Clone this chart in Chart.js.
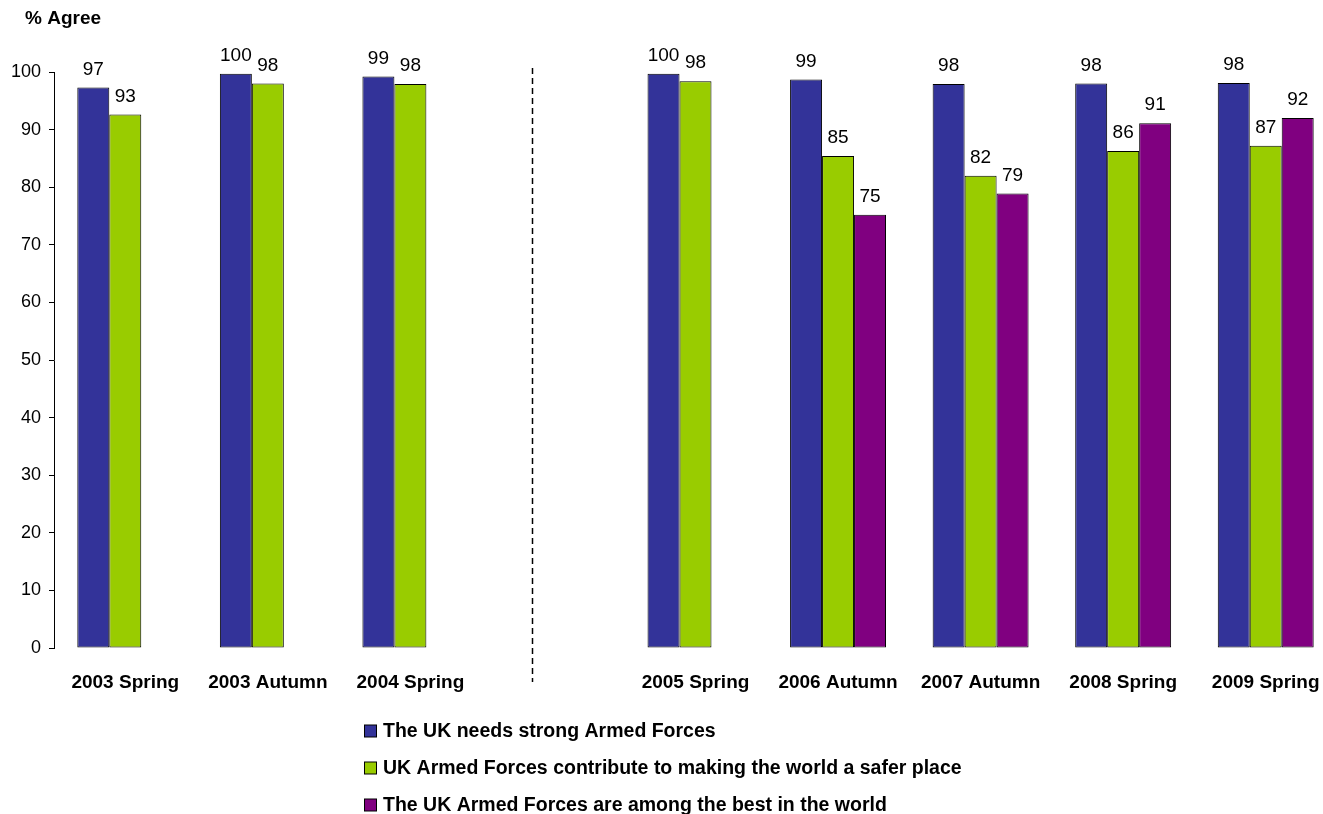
<!DOCTYPE html>
<html>
<head>
<meta charset="utf-8">
<script src="https://cdn.jsdelivr.net/npm/chart.js@4/dist/chart.umd.min.js"></script>
<style>
  html, body { margin: 0; padding: 0; background: #fff; overflow: hidden; }
  canvas { display: block; }
</style>
</head>
<body>
<canvas id="chart" width="1337" height="814"></canvas>
<script>
// survey waves (blank slot = gap where the dashed divider sits)
const categories = ["2003 Spring", "2003 Autumn", "2004 Spring", "", "2005 Spring", "2006 Autumn", "2007 Autumn", "2008 Spring", "2009 Spring"];
const seriesNames = [
  "The UK needs strong Armed Forces",
  "UK Armed Forces contribute to making the world a safer place",
  "The UK Armed Forces are among the best in the world"
];
const needsStrong = [97.3, 99.7, 99.2, null, 99.7, 98.7, 97.9, 98.0, 98.1];
const saferWorld = [92.6, 98.0, 97.9, null, 98.4, 85.4, 82.0, 86.3, 87.2];
const amongBest = [null, null, null, null, null, 75.2, 78.9, 91.1, 92.0];
const yTicks = [0, 10, 20, 30, 40, 50, 60, 70, 80, 90, 100];

const FONT = "Arial, 'Liberation Sans', sans-serif";
const colors = ["#333399", "#99CC00", "#800080"];

// value labels, axis title, dashed divider and the stacked legend
const extras = {
  id: "extras",
  afterDatasetsDraw(chart) {
    const ctx = chart.ctx;
    ctx.save();
    ctx.font = "19px " + FONT;
    ctx.fillStyle = "#000";
    ctx.textAlign = "center";
    ctx.textBaseline = "middle";
    chart.data.datasets.forEach((ds, i) => {
      chart.getDatasetMeta(i).data.forEach((bar, j) => {
        const v = ds.data[j];
        if (v == null) return;
        ctx.fillText(Math.round(v), bar.x, bar.y - 18);
      });
    });
    ctx.restore();
  },
  afterDraw(chart) {
    const ctx = chart.ctx;
    const x = chart.scales.x, y = chart.scales.y;
    ctx.save();

    // axis title
    ctx.font = "bold 19px " + FONT;
    ctx.fillStyle = "#000";
    ctx.textAlign = "left";
    ctx.textBaseline = "middle";
    ctx.fillText("% Agree", 25, 19);

    // dashed divider between the two survey periods
    const dx = Math.round(x.getPixelForValue(2.85)) + 0.5;
    ctx.strokeStyle = "#000";
    ctx.lineWidth = 1.5;
    ctx.setLineDash([6, 4]);
    ctx.beginPath();
    ctx.moveTo(dx, y.getPixelForValue(100) - 4);
    ctx.lineTo(dx, chart.chartArea.bottom + 34);
    ctx.stroke();
    ctx.setLineDash([]);

    // legend, one item per row
    ctx.font = "bold 19.5px " + FONT;
    chart.data.datasets.forEach((ds, i) => {
      const cy = 731 + i * 37;
      ctx.fillStyle = ds.backgroundColor;
      ctx.fillRect(364.5, cy - 6, 12, 12);
      ctx.lineWidth = 1;
      ctx.strokeStyle = "#000";
      ctx.strokeRect(364.5, cy - 6, 12, 12);
      ctx.fillStyle = "#000";
      ctx.fillText(ds.label, 383, cy + 1);
    });
    ctx.restore();
  }
};

const chart = new Chart(document.getElementById("chart"), {
  type: "bar",
  data: {
    labels: categories,
    datasets: [
      { label: seriesNames[0], data: needsStrong, backgroundColor: colors[0] },
      { label: seriesNames[1], data: saferWorld, backgroundColor: colors[1] },
      { label: seriesNames[2], data: amongBest, backgroundColor: colors[2] }
    ].map(d => Object.assign(d, {
      borderColor: "#000",
      borderWidth: 1,
      borderSkipped: false,
      categoryPercentage: 0.673,
      barPercentage: 1
    }))
  },
  options: {
    responsive: false,
    animation: false,
    devicePixelRatio: 1,
    layout: { padding: { top: 72, left: 0, right: 0, bottom: 116 } },
    plugins: {
      legend: { display: false },
      tooltip: { enabled: false }
    },
    scales: {
      x: {
        grid: { display: false },
        border: { display: false },
        ticks: {
          padding: 15,
          color: "#000",
          maxRotation: 0,
          autoSkip: false,
          font: { family: FONT, size: 19, weight: "bold" }
        },
        afterFit(scale) { scale.height = 50; }
      },
      y: {
        min: 0,
        max: 100,
        afterBuildTicks(scale) { scale.ticks = yTicks.map(v => ({ value: v })); },
        grid: { drawOnChartArea: false, drawTicks: true, tickLength: 5, color: "#000" },
        border: { display: true, color: "#000", width: 1 },
        ticks: {
          padding: 8,
          color: "#000",
          font: { family: FONT, size: 18 }
        },
        afterFit(scale) { scale.width = 54; }
      }
    }
  },
  plugins: [extras]
});
</script>
</body>
</html>
